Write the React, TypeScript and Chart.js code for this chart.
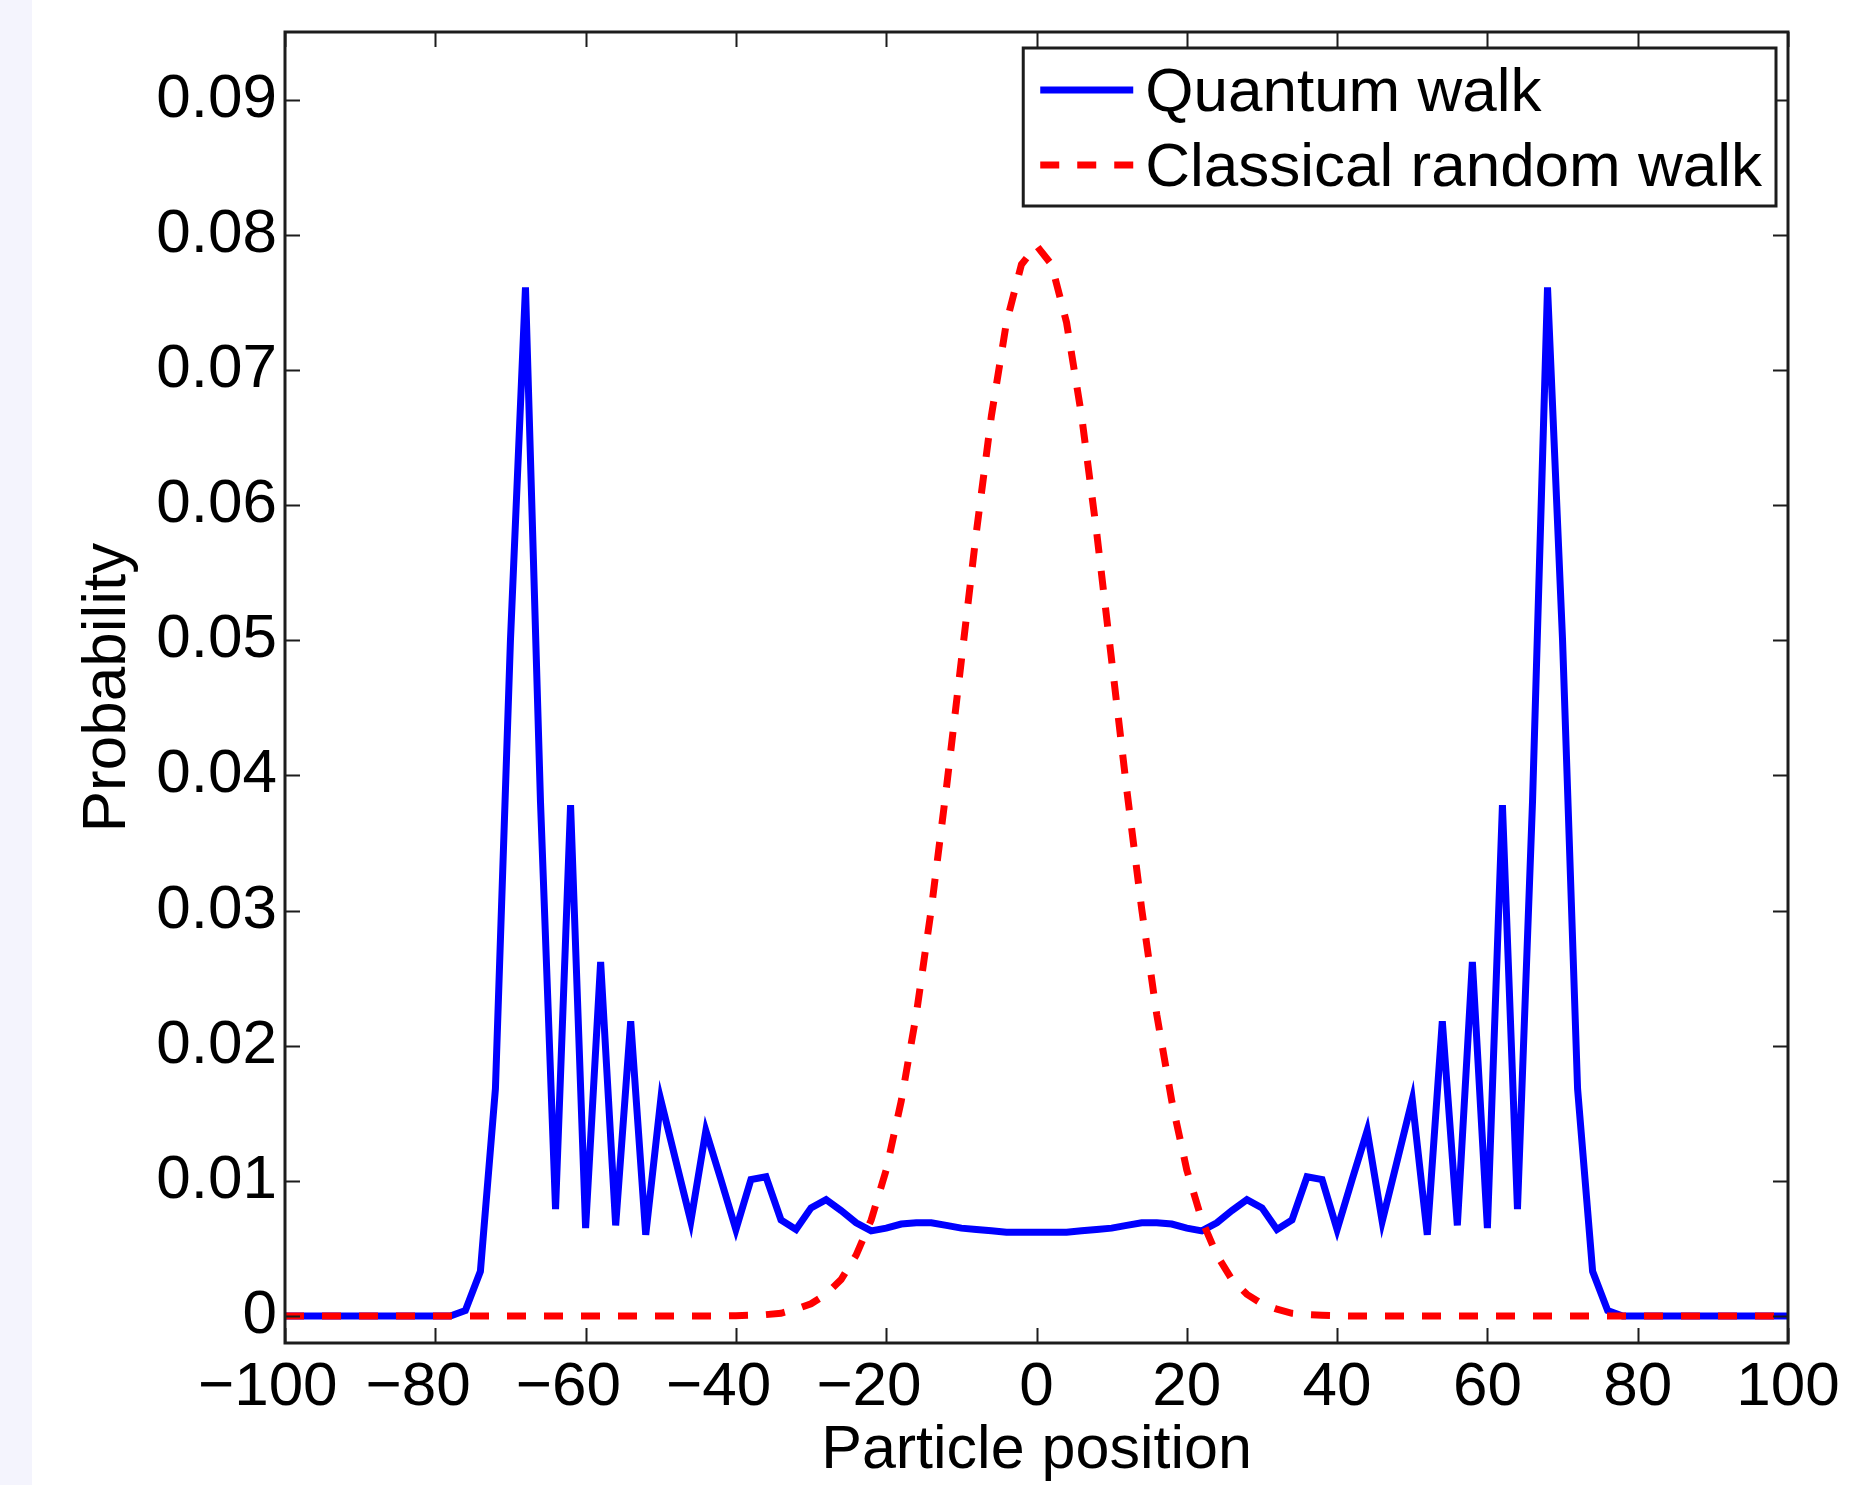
import React, { useEffect, useRef } from "react";
import { Chart, registerables } from "chart.js";

Chart.register(...registerables);

const positions = [
  -100, -98, -96, -94, -92, -90, -88, -86, -84, -82,
  -80, -78, -76, -74, -72, -70, -68, -66, -64, -62,
  -60, -58, -56, -54, -52, -50, -48, -46, -44, -42,
  -40, -38, -36, -34, -32, -30, -28, -26, -24, -22,
  -20, -18, -16, -14, -12, -10, -8, -6, -4, -2,
  0,
  2, 4, 6, 8, 10, 12, 14, 16, 18, 20,
  22, 24, 26, 28, 30, 32, 34, 36, 38, 40,
  42, 44, 46, 48, 50, 52, 54, 56, 58, 60,
  62, 64, 66, 68, 70, 72, 74, 76, 78, 80,
  82, 84, 86, 88, 90, 92, 94, 96, 98, 100,
];

const quantumWalk = [
  0, 0, 0, 0, 0, 0, 0, 0, 0, 0,
  0, 0, 0.0004, 0.0033, 0.0168, 0.05, 0.0761, 0.038, 0.0079, 0.0378,
  0.0065, 0.0262, 0.0067, 0.0218, 0.006, 0.016, 0.0115, 0.007, 0.0137, 0.0101,
  0.0064, 0.0101, 0.0103, 0.0071, 0.0064, 0.008, 0.0086, 0.0078, 0.0069, 0.0063,
  0.0065, 0.0068, 0.0069, 0.0069, 0.0067, 0.0065, 0.0064, 0.0063, 0.0062, 0.0062,
  0.0062,
  0.0062, 0.0062, 0.0063, 0.0064, 0.0065, 0.0067, 0.0069, 0.0069, 0.0068, 0.0065,
  0.0063, 0.0069, 0.0078, 0.0086, 0.008, 0.0064, 0.0071, 0.0103, 0.0101, 0.0064,
  0.0101, 0.0137, 0.007, 0.0115, 0.016, 0.006, 0.0218, 0.0067, 0.0262, 0.0065,
  0.0378, 0.0079, 0.038, 0.0761, 0.05, 0.0168, 0.0033, 0.0004, 0, 0,
  0, 0, 0, 0, 0, 0, 0, 0, 0, 0,
];

const classicalWalk = [
  0, 0, 0, 0, 0, 0, 0, 0, 0, 0,
  0, 0, 0, 0, 0, 0, 0, 0, 0, 0,
  0, 0, 0, 0, 0, 0, 0, 0, 0, 0,
  0.00002, 0.00005, 0.0001, 0.0002, 0.0005, 0.0009, 0.0016, 0.0027, 0.0045, 0.0071,
  0.0108, 0.0159, 0.0223, 0.0301, 0.039, 0.0485, 0.058, 0.0666, 0.0735, 0.0778,
  0.0792,
  0.0778, 0.0735, 0.0666, 0.058, 0.0485, 0.039, 0.0301, 0.0223, 0.0159, 0.0108,
  0.0071, 0.0045, 0.0027, 0.0016, 0.0009, 0.0005, 0.0002, 0.0001, 0.00005, 0.00002,
  0, 0, 0, 0, 0, 0, 0, 0, 0, 0,
  0, 0, 0, 0, 0, 0, 0, 0, 0, 0,
  0, 0, 0, 0, 0, 0, 0, 0, 0, 0,
];

const seriesNames = ["Quantum walk", "Classical random walk"];

const xTickValues = [-100, -80, -60, -40, -20, 0, 20, 40, 60, 80, 100];
const xTickLabels = ["−100", "−80", "−60", "−40", "−20", "0", "20", "40", "60", "80", "100"];
const yTickValues = [0, 0.01, 0.02, 0.03, 0.04, 0.05, 0.06, 0.07, 0.08, 0.09];
const yTickLabels = ["0", "0.01", "0.02", "0.03", "0.04", "0.05", "0.06", "0.07", "0.08", "0.09"];

const xTitle = "Particle position";
const yTitle = "Probability";

const FONT = '"Liberation Sans", Arial, Helvetica, sans-serif';
const AXIS_COLOR = "#1c1c1c";

const framePlugin = {
  id: "matlabFrame",
  afterDatasetsDraw(chart: any) {
    const { ctx, chartArea } = chart;
    const { left, right, top, bottom } = chartArea;
    const xs = chart.scales.x;
    const ys = chart.scales.y;
    const tl = 15;
    ctx.save();
    ctx.strokeStyle = AXIS_COLOR;
    ctx.lineWidth = 2;
    ctx.beginPath();
    xs.ticks.forEach((t: any) => {
      const px = Math.round(xs.getPixelForValue(t.value)) + 0.5;
      ctx.moveTo(px, bottom);
      ctx.lineTo(px, bottom - tl);
      ctx.moveTo(px, top);
      ctx.lineTo(px, top + tl);
    });
    ys.ticks.forEach((t: any) => {
      const py = Math.round(ys.getPixelForValue(t.value)) + 0.5;
      ctx.moveTo(left, py);
      ctx.lineTo(left + tl, py);
      ctx.moveTo(right, py);
      ctx.lineTo(right - tl, py);
    });
    ctx.stroke();
    ctx.lineWidth = 3;
    ctx.strokeRect(left, top, right - left, bottom - top);
    ctx.restore();
  },
  afterDraw(chart: any) {
    const { ctx, chartArea } = chart;
    const datasets = chart.data.datasets;
    ctx.save();
    ctx.font = `62px ${FONT}`;
    const textW = Math.max(...datasets.map((d: any) => ctx.measureText(d.label).width));
    const padL = 17;
    const sampleW = 93;
    const gap = 12;
    const padR = 14;
    const w = padL + sampleW + gap + textW + padR;
    const h = 158;
    const right = chartArea.right - 12;
    const lx = right - w;
    const ty = chartArea.top + 16;
    ctx.fillStyle = "#ffffff";
    ctx.fillRect(lx, ty, w, h);
    ctx.strokeStyle = AXIS_COLOR;
    ctx.lineWidth = 3;
    ctx.strokeRect(lx, ty, w, h);
    const rows = [ty + 42, ty + 117];
    datasets.forEach((d: any, i: number) => {
      const ry = rows[i];
      ctx.save();
      ctx.strokeStyle = d.borderColor;
      ctx.lineWidth = d.borderWidth;
      ctx.setLineDash(d.borderDash || []);
      ctx.beginPath();
      ctx.moveTo(lx + padL, ry);
      ctx.lineTo(lx + padL + sampleW, ry);
      ctx.stroke();
      ctx.restore();
      ctx.fillStyle = "#000000";
      ctx.textAlign = "left";
      ctx.textBaseline = "alphabetic";
      ctx.fillText(d.label, lx + padL + sampleW + gap, ry + 21);
    });
    ctx.restore();
  },
};

export default function App() {
  const canvasRef = useRef<HTMLCanvasElement | null>(null);

  useEffect(() => {
    const canvas = canvasRef.current;
    if (!canvas) return;
    const chart = new Chart(canvas, {
      type: "line",
      data: {
        datasets: [
          {
            label: seriesNames[0],
            data: positions.map((p, i) => ({ x: p, y: quantumWalk[i] })),
            borderColor: "#0000ff",
            backgroundColor: "#0000ff",
            borderWidth: 7,
            pointRadius: 0,
            fill: false,
            tension: 0,
            order: 1,
          },
          {
            label: seriesNames[1],
            data: positions.map((p, i) => ({ x: p, y: classicalWalk[i] })),
            borderColor: "#ff0000",
            backgroundColor: "#ff0000",
            borderWidth: 7,
            borderDash: [19, 18],
            pointRadius: 0,
            fill: false,
            tension: 0,
            order: 0,
          },
        ],
      },
      options: {
        responsive: false,
        animation: false,
        devicePixelRatio: 1,
        layout: { padding: { left: 0, top: 32, right: 66, bottom: 0 } },
        plugins: {
          legend: { display: false },
          tooltip: { enabled: false },
        },
        scales: {
          x: {
            type: "linear",
            min: -100,
            max: 100,
            afterBuildTicks: (s: any) => {
              s.ticks = xTickValues.map((v) => ({ value: v }));
            },
            afterFit: (s: any) => {
              s.height = 142;
              s.paddingLeft = 0;
              s.paddingRight = 0;
            },
            grid: { display: false, drawTicks: false, tickLength: 0 },
            border: { display: false },
            ticks: {
              autoSkip: false,
              maxRotation: 0,
              minRotation: 0,
              padding: 8,
              color: "#000000",
              font: { family: FONT, size: 62 },
              callback: (value: any) => {
                const lbl = xTickLabels[xTickValues.indexOf(Number(value))] ?? "";
                return lbl.startsWith("−") ? lbl + "  " : lbl;
              },
            },
            title: {
              display: true,
              text: xTitle,
              color: "#000000",
              font: { family: FONT, size: 61 },
              padding: { top: 0, bottom: -3 },
            },
          },
          y: {
            type: "linear",
            min: -0.002,
            max: 0.095,
            afterBuildTicks: (s: any) => {
              s.ticks = yTickValues.map((v) => ({ value: v }));
            },
            afterFit: (s: any) => {
              s.width = 285;
              s.paddingTop = 0;
              s.paddingBottom = 0;
            },
            grid: { display: false, drawTicks: false, tickLength: 0 },
            border: { display: false },
            ticks: {
              autoSkip: false,
              padding: 8,
              color: "#000000",
              font: { family: FONT, size: 62 },
              callback: (value: any) => yTickLabels[yTickValues.indexOf(Number(value))] ?? "",
            },
            title: {
              display: true,
              text: yTitle,
              color: "#000000",
              font: { family: FONT, size: 62 },
              padding: { top: 71, bottom: 0 },
            },
          },
        },
      },
      plugins: [framePlugin],
    } as any);
    return () => chart.destroy();
  }, []);

  return (
    <div
      style={{
        position: "absolute",
        left: 0,
        top: 0,
        width: 1854,
        height: 1485,
        background: "#ffffff",
        overflow: "hidden",
      }}
    >
      <div
        style={{
          position: "absolute",
          left: 0,
          top: 0,
          width: 32,
          height: 1485,
          background: "#f4f4fd",
        }}
      />
      <canvas
        ref={canvasRef}
        width={1854}
        height={1485}
        style={{ position: "absolute", left: 0, top: 0, width: 1854, height: 1485 }}
      />
    </div>
  );
}
